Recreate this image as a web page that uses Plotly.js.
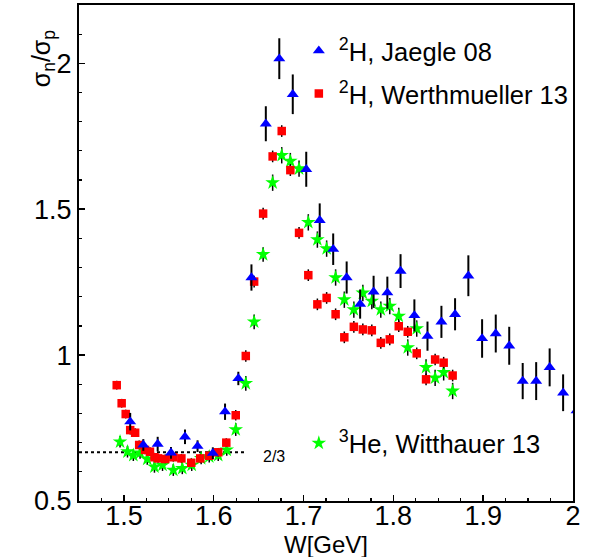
<!DOCTYPE html>
<html>
<head>
<meta charset="utf-8">
<script src="https://cdn.plot.ly/plotly-3.0.1.min.js"></script>
<style>html,body{margin:0;padding:0;background:#fff;}#chart{width:595px;height:557px;}</style>
</head>
<body>
<div id="chart"></div>
<script>
// ---- data ----
const jaegleW = [1.507,1.5216,1.5376,1.5524,1.568,1.582,1.599,1.6126,1.6274,1.642,1.658,1.673,1.688,1.703,1.718,1.733,1.748,1.763,1.778,1.7933,1.808,1.8234,1.838,1.8535,1.8687,1.8835,1.8988,1.914,1.929,1.944,1.959,1.974,1.989,2.004];
const jaegleR = [0.772,0.692,0.695,0.665,0.72,0.688,0.664,0.806,0.92,1.266,1.793,2.016,1.894,1.637,1.462,1.363,1.266,1.175,1.217,1.214,1.288,1.136,1.065,1.114,1.140,1.272,1.057,1.074,1.032,0.911,0.911,0.958,0.871,0.81];
const jaegleErr = [0.03,0.02,0.025,0.02,0.025,0.02,0.02,0.028,0.023,0.045,0.06,0.07,0.068,0.06,0.058,0.054,0.055,0.05,0.055,0.055,0.058,0.055,0.05,0.055,0.055,0.07,0.066,0.065,0.065,0.062,0.065,0.065,0.063,0.06];

const werthW = [1.492,1.4975,1.502,1.507,1.5125,1.517,1.5235,1.529,1.534,1.538,1.546,1.555,1.564,1.575,1.585,1.595,1.605,1.614,1.6245,1.6357,1.645,1.655,1.6656,1.6757,1.6853,1.695,1.7053,1.7154,1.7257,1.7357,1.7454,1.756,1.766,1.776,1.786,1.796,1.806,1.816,1.826,1.8364,1.8465,1.856,1.866];
const werthR = [0.897,0.835,0.798,0.743,0.734,0.692,0.675,0.669,0.65,0.646,0.644,0.65,0.646,0.631,0.646,0.655,0.667,0.70,0.794,0.997,1.252,1.485,1.681,1.768,1.634,1.419,1.274,1.174,1.196,1.140,1.061,1.097,1.088,1.085,1.042,1.054,1.099,1.080,1.006,0.917,0.985,0.974,0.93];
const werthErr = [0.015,0.015,0.015,0.015,0.015,0.015,0.015,0.015,0.015,0.015,0.015,0.015,0.015,0.015,0.015,0.015,0.015,0.015,0.018,0.02,0.02,0.02,0.02,0.02,0.02,0.02,0.02,0.02,0.02,0.02,0.02,0.02,0.02,0.02,0.02,0.02,0.02,0.02,0.02,0.02,0.02,0.02,0.02];

const witthW = [1.4957,1.504,1.5105,1.518,1.526,1.534,1.543,1.555,1.565,1.5755,1.586,1.595,1.605,1.6145,1.6245,1.6357,1.645,1.655,1.6656,1.6757,1.6853,1.695,1.7053,1.7154,1.7257,1.7357,1.7454,1.756,1.766,1.776,1.786,1.796,1.806,1.816,1.826,1.8364,1.8465,1.856,1.866];
const witthR = [0.703,0.669,0.657,0.665,0.644,0.617,0.623,0.606,0.612,0.623,0.646,0.652,0.657,0.675,0.745,0.903,1.114,1.345,1.591,1.685,1.665,1.639,1.455,1.396,1.365,1.266,1.190,1.156,1.213,1.185,1.156,1.168,1.134,1.026,1.091,0.958,0.922,0.941,0.877];
const witthErr = [0.02,0.02,0.02,0.02,0.02,0.02,0.02,0.02,0.02,0.02,0.02,0.02,0.02,0.02,0.022,0.025,0.025,0.025,0.028,0.028,0.028,0.028,0.028,0.028,0.028,0.028,0.028,0.028,0.028,0.028,0.028,0.028,0.028,0.028,0.028,0.028,0.028,0.028,0.028];

const refLineW = [1.45, 1.637];
const refLineR = [2/3, 2/3];
const refLabel = "2/3";

const names = ["<sup>2</sup>H, Jaegle 08", "<sup>2</sup>H, Werthmueller 13", "<sup>3</sup>He, Witthauer 13"];
const xTitle = "W[GeV]";
const yTitle = "σ<sub>n</sub>/σ<sub>p</sub>";

// ---- plot ----
const FONT = "Liberation Sans, Arial, Helvetica, sans-serif";
const traces = [
  {x: refLineW, y: refLineR, type: 'scatter', mode: 'lines', showlegend: false,
   line: {color: 'black', width: 2, dash: 'dot'}, hoverinfo: 'skip'},
  {x: witthW, y: witthR, type: 'scatter', mode: 'markers', name: names[2], legend: 'legend3',
   marker: {symbol: 'star', size: 11, color: '#00ff00', line: {width: 0}},
   error_y: {type: 'data', array: witthErr, visible: true, color: 'black', thickness: 1.5, width: 0}},
  {x: werthW, y: werthR, type: 'scatter', mode: 'markers', name: names[1], legend: 'legend2',
   marker: {symbol: 'square', size: 8.5, color: '#ff0000', line: {width: 0}},
   error_y: {type: 'data', array: werthErr, visible: true, color: 'black', thickness: 1.5, width: 0}},
  {x: jaegleW, y: jaegleR, type: 'scatter', mode: 'markers', name: names[0], legend: 'legend',
   marker: {symbol: 'triangle-up', size: 10.5, color: '#0000ff', line: {width: 0}},
   error_y: {type: 'data', array: jaegleErr, visible: true, color: 'black', thickness: 2, width: 0}}
];

const legBase = {x: 0.445, xanchor: 'left', yanchor: 'middle', bgcolor: 'rgba(0,0,0,0)',
  borderwidth: 0, font: {family: FONT, size: 25.5, color: 'black'}};

const layout = {
  width: 595, height: 557,
  margin: {l: 79, r: 22, t: 5, b: 56},
  paper_bgcolor: 'white', plot_bgcolor: 'white',
  font: {family: FONT, color: 'black'},
  xaxis: {range: [1.45, 2.0], dtick: 0.1, tick0: 1.5, ticks: 'inside', ticklen: 6, tickwidth: 1.5,
    tickcolor: 'black', showline: true, linecolor: 'black', linewidth: 2, mirror: true,
    showgrid: false, zeroline: false, tickfont: {family: FONT, size: 27, color: 'black'},
    ticklabelstandoff: -10,
    minor: {dtick: 0.025, tick0: 1.45, ticks: 'inside', ticklen: 3, tickwidth: 1.2, tickcolor: 'black', showgrid: false}},
  yaxis: {range: [0.5, 2.2], dtick: 0.5, tick0: 0.5, ticks: 'inside', ticklen: 6, tickwidth: 1.5,
    tickcolor: 'black', showline: true, linecolor: 'black', linewidth: 2, mirror: true,
    showgrid: false, zeroline: false, tickfont: {family: FONT, size: 27, color: 'black'},
    minor: {dtick: 0.1, ticks: 'inside', ticklen: 3, tickwidth: 1.2, tickcolor: 'black', showgrid: false}},
  legend: Object.assign({}, legBase, {y: 0.907}),
  legend2: Object.assign({}, legBase, {y: 0.8206}),
  legend3: Object.assign({}, legBase, {y: 0.116}),
  annotations: [
    {text: refLabel, xref: 'x', yref: 'y', x: 1.653, y: 2/3, xanchor: 'left', yanchor: 'middle',
     yshift: -4, showarrow: false, font: {family: FONT, size: 16, color: 'black'}},
    {text: xTitle, xref: 'paper', yref: 'paper', x: 0.5, y: -0.087, xanchor: 'center', yanchor: 'middle',
     showarrow: false, font: {family: FONT, size: 24, color: 'black'}},
    {text: yTitle, xref: 'paper', yref: 'paper', x: -0.073, y: 0.954, xanchor: 'center', yanchor: 'top',
     textangle: -90, showarrow: false, font: {family: FONT, size: 25, color: 'black'}}
  ],
  showlegend: true
};

Plotly.newPlot('chart', traces, layout, {staticPlot: true, displayModeBar: false});
</script>
</body>
</html>
